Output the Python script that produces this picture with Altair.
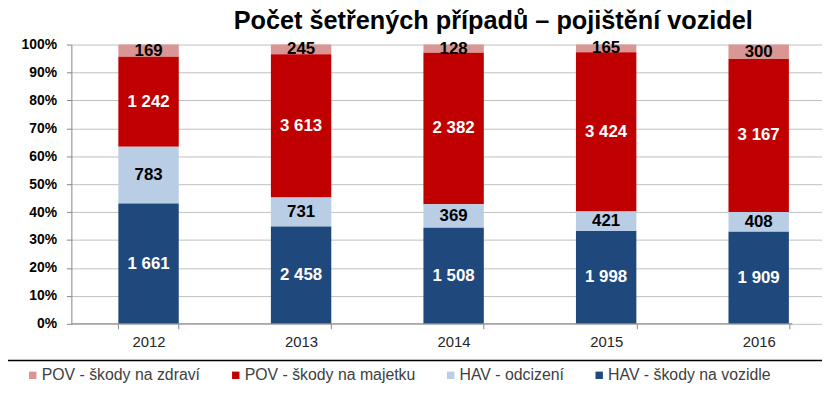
import altair as alt
import pandas as pd

years = ["2012", "2013", "2014", "2015", "2016"]
series = ["POV - škody na zdraví", "POV - škody na majetku", "HAV - odcizení", "HAV - škody na vozidle"]
pov_zdravi = [169, 245, 128, 165, 300]
pov_majetek = [1242, 3613, 2382, 3424, 3167]
hav_odcizeni = [783, 731, 369, 421, 408]
hav_vozidlo = [1661, 2458, 1508, 1998, 1909]
colors = ["#D99694", "#C00000", "#B9CDE5", "#1F497D"]
stack_order = [3, 2, 1, 0]
title_text = "Počet šetřených případů – pojištění vozidel"

rows = []
for s, vals, o in zip(series, [pov_zdravi, pov_majetek, hav_odcizeni, hav_vozidlo], stack_order):
    for yr, v in zip(years, vals):
        rows.append({"year": yr, "series": s, "value": v, "ord": o})
df = pd.DataFrame(rows)

FONT = "Liberation Sans"

x_enc = alt.X(
    "year:N", title=None, sort=years,
    scale=alt.Scale(range=[0, 772], paddingInner=0.604, paddingOuter=0.308),
    axis=alt.Axis(labelAngle=0, domain=False, tickBand="extent", ticks=True, tickSize=5,
                  tickColor="#868686", labelFontSize=15, labelColor="#262626",
                  labelPadding=6, labelFont=FONT, grid=False),
)

bars = alt.Chart(df).mark_bar().encode(
    x=x_enc,
    y=alt.Y("value:Q", stack="normalize", title=None,
            scale=alt.Scale(domain=[0, 1], nice=False),
            axis=alt.Axis(format=".0%", tickCount=10, labelFontSize=14, labelFontWeight="bold",
                          labelColor="black", labelFont=FONT, tickSize=5, tickColor="#868686",
                          domainColor="#868686", gridColor="#BFBFBF", labelPadding=10)),
    color=alt.Color("series:N", scale=alt.Scale(domain=series, range=colors),
                    legend=alt.Legend(title=None, orient="none", legendX=-47, legendY=326,
                                      direction="horizontal", symbolType="square", symbolSize=56,
                                      symbolStrokeWidth=0, labelFontSize=16, labelFont=FONT,
                                      labelColor="#404040", labelOffset=1, columnPadding=27,
                                      padding=0, symbolOffset=0, labelLimit=400)),
    order=alt.Order("ord:Q", sort="ascending"),
)

labels = alt.Chart(df).transform_joinaggregate(
    total="sum(value)", groupby=["year"]
).transform_window(
    cum="sum(value)", sort=[alt.SortField("ord")], groupby=["year"], frame=[None, 0]
).transform_calculate(
    mid="(datum.cum - datum.value/2)/datum.total",
    lab="replace(format(datum.value, ','), ',', ' ')",
).mark_text(fontSize=17, fontWeight="bold", font=FONT).encode(
    x=alt.X("year:N", sort=years),
    y=alt.Y("mid:Q"),
    text="lab:N",
    color=alt.condition(alt.FieldOneOfPredicate(field="series", oneOf=[series[1], series[3]]),
                        alt.value("white"), alt.value("black")),
)

dummy = pd.DataFrame({"a": [0]})
xline = alt.Chart(dummy).mark_rule(color="#868686", strokeWidth=1).encode(
    x=alt.value(0), x2=alt.value(728), y=alt.value(282))
sepline = alt.Chart(dummy).mark_rule(color="#000000", strokeWidth=1.5).encode(
    x=alt.value(-64), x2=alt.value(758), y=alt.value(319))

chart = alt.layer(bars, labels, xline, sepline).properties(
    width=728, height=282,
    title=alt.TitleParams(text=title_text, fontSize=25.5, font=FONT, fontWeight="bold",
                          color="black", anchor="middle", frame="group", dx=62, dy=17, offset=0,
                          baseline="alphabetic"),
    autosize=alt.AutoSizeParams(type="none"),
    padding={"left": 64, "top": 35, "right": 30, "bottom": 74},
).configure_view(stroke=None)

chart.save("out.html", embed_options={"renderer": "svg", "actions": False})
